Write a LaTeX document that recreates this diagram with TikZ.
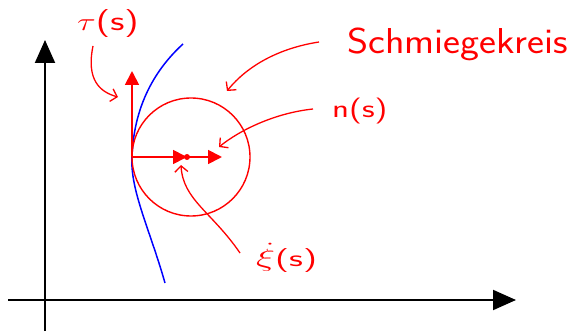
\documentclass[tikz,border=0pt]{standalone}
\usetikzlibrary{arrows.meta}
\begin{document}
\begin{tikzpicture}[x=1pt,y=-1pt,
  axis/.style={black,line width=2pt,-{Triangle[length=23pt,width=20pt]}},
  vec/.style={red,line width=1.8pt,-{Triangle[length=14pt,width=14pt]}},
  hand/.style={red,line width=1.3pt,-{Straight Barb[length=6pt,width=13pt]}},
  lbl/.style={red,inner sep=0pt,font=\sffamily},
  curve/.style={blue,line width=1.5pt}]
\useasboundingbox (0,0) rectangle (576,334);
% axes
\coordinate (yb) at (45,331);
\coordinate (yt) at (45,40);
\coordinate (xl) at (8,300);
\coordinate (xr) at (516,300);
\draw[axis] (yb) -- (yt);
\draw[axis] (xl) -- (xr);
% points
\coordinate (P) at (132,157);
\coordinate (M) at (191,157);
\coordinate (T) at (132,71);
\coordinate (N1) at (187,157);
\coordinate (N2) at (222,157);
% curve
\draw[curve] (183,44) .. controls (160,65) and (134,100) .. (P)
  .. controls (130,190) and (150,230) .. (165,283);
% osculating circle
\draw[red,line width=1.4pt] (M) circle (59);
% vectors
\draw[vec] (P) -- (T);
\draw[vec] (P) -- (N1);
\draw[vec] (N1) -- (N2);
\fill[red] (N1) circle (3);
% labels
\node[lbl,anchor=west] (tau) at (77,24) {\scalebox{1.4}[1]{\fontsize{28}{28}\selectfont$\tau$(s)}};
\node[lbl,anchor=base west] (sk) at (347,54) {\scalebox{1.12}[1]{\fontsize{36}{36}\selectfont Schmiegekreis}};
\node[lbl,anchor=west] (ns) at (332,111) {\scalebox{1.35}[1]{\fontsize{26}{26}\selectfont n(s)}};
\node[lbl,anchor=west] (xi) at (256,258) {\scalebox{1.6}[1]{\fontsize{24}{24}\selectfont$\dot{\xi}$(s)}};
% hand arrows
\coordinate (a1) at (93,46);
\coordinate (a1e) at (118,97);
\coordinate (a2) at (319,42);
\coordinate (a2e) at (227,91);
\coordinate (a3) at (313,109);
\coordinate (a3e) at (219,147);
\coordinate (a4) at (240,253);
\coordinate (a4e) at (181,165);
\draw[hand] (a1) .. controls (86,80) and (100,92) .. (a1e);
\draw[hand] (a2) .. controls (280,48) and (248,65) .. (a2e);
\draw[hand] (a3) .. controls (275,113) and (240,130) .. (a3e);
\draw[hand] (a4) .. controls (212,212) and (183,200) .. (a4e);
\end{tikzpicture}
\end{document}
